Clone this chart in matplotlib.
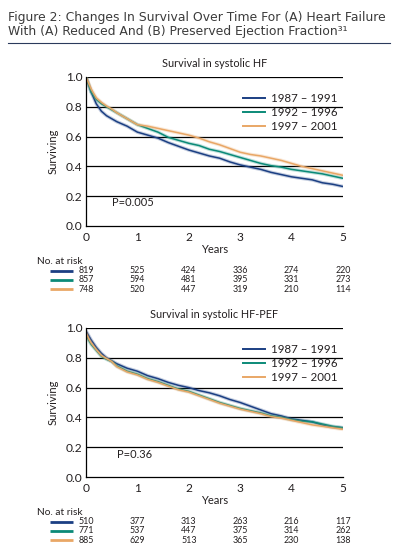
import matplotlib
matplotlib.use("Agg")
import matplotlib.pyplot as plt
import matplotlib.transforms as mtransforms

plt.rcParams['font.family'] = ['Lato', 'DejaVu Sans']

# ---------------- datos ----------------
years = [0, 0.05, 0.1, 0.2, 0.3, 0.4, 0.5, 0.6, 0.8, 1.0, 1.2, 1.4, 1.6, 1.8, 2.0,
         2.2, 2.4, 2.6, 2.8, 3.0, 3.2, 3.4, 3.6, 3.8, 4.0, 4.2, 4.4, 4.6, 4.8, 5.0]

periodos = ['1987 – 1991', '1992 – 1996', '1997 – 2001']
colores = ['#1b3f83', '#0b8a78', '#e9a766']

# Survival in systolic HF
hf_8791 = [1.0, 0.95, 0.90, 0.82, 0.77, 0.74, 0.72, 0.70, 0.67, 0.63, 0.61, 0.59, 0.56, 0.535, 0.51,
           0.49, 0.47, 0.455, 0.43, 0.41, 0.395, 0.38, 0.36, 0.345, 0.33, 0.32, 0.31, 0.29, 0.28, 0.265]
hf_9296 = [1.0, 0.95, 0.90, 0.85, 0.82, 0.80, 0.78, 0.76, 0.72, 0.68, 0.655, 0.63, 0.595, 0.575, 0.555,
           0.54, 0.515, 0.50, 0.48, 0.46, 0.44, 0.42, 0.405, 0.395, 0.38, 0.37, 0.36, 0.35, 0.335, 0.32]
hf_9701 = [1.0, 0.96, 0.92, 0.86, 0.83, 0.805, 0.785, 0.76, 0.72, 0.68, 0.67, 0.655, 0.64, 0.625, 0.61,
           0.59, 0.565, 0.545, 0.52, 0.495, 0.48, 0.47, 0.455, 0.44, 0.42, 0.40, 0.385, 0.37, 0.355, 0.34]

# Survival in systolic HF-PEF
pef_8791 = [0.98, 0.95, 0.92, 0.87, 0.83, 0.80, 0.78, 0.76, 0.73, 0.71, 0.68, 0.66, 0.635, 0.615, 0.60,
            0.58, 0.565, 0.545, 0.52, 0.50, 0.475, 0.45, 0.425, 0.41, 0.39, 0.38, 0.37, 0.35, 0.335, 0.33]
pef_9296 = [0.96, 0.92, 0.89, 0.85, 0.81, 0.79, 0.775, 0.745, 0.71, 0.69, 0.66, 0.64, 0.615, 0.59, 0.575,
            0.55, 0.525, 0.50, 0.48, 0.46, 0.445, 0.43, 0.41, 0.40, 0.385, 0.375, 0.37, 0.355, 0.34, 0.33]
pef_9701 = [0.97, 0.93, 0.90, 0.855, 0.815, 0.795, 0.775, 0.74, 0.705, 0.685, 0.655, 0.635, 0.61, 0.585, 0.57,
            0.545, 0.52, 0.495, 0.475, 0.455, 0.44, 0.425, 0.405, 0.395, 0.38, 0.365, 0.35, 0.34, 0.33, 0.32]

riesgo_x = [0, 1, 2, 3, 4, 5]
riesgo_hf = [[819, 525, 424, 336, 274, 220],
             [857, 594, 481, 395, 331, 273],
             [748, 520, 447, 319, 210, 114]]
riesgo_pef = [[510, 377, 313, 263, 216, 117],
              [771, 537, 447, 375, 314, 262],
              [885, 629, 513, 365, 230, 138]]

TXT = '#231f20'
W, H = 398, 558


def caja(x0, y0, x1, y1):
    # pixeles (desde arriba) -> fraccion de figura
    return [x0 / W, 1 - y1 / H, (x1 - x0) / W, (y1 - y0) / H]


def graficar(ax, titulo, series, riesgo, ptxt, ppos):
    for s, c, lab in zip(series, colores, periodos):
        ax.plot(years, s, color=c, lw=2.6, alpha=0.25, solid_capstyle='butt')
        ax.plot(years, s, color=c, lw=1.1, label=lab)
    ax.set_xlim(0, 5)
    ax.set_ylim(0, 1.0)
    ax.set_xticks(riesgo_x)
    ax.set_yticks([0.0, 0.2, 0.4, 0.6, 0.8, 1.0])
    ax.set_yticklabels(['0.0', '0.2', '0.4', '0.6', '0.8', '1.0'])
    for v in [0.2, 0.4, 0.6, 0.8, 1.0]:
        ax.axhline(v, color='black', lw=0.9, zorder=0)
    for sp in ['top', 'right']:
        ax.spines[sp].set_visible(False)
    for sp in ['left', 'bottom']:
        ax.spines[sp].set_linewidth(0.9)
    ax.tick_params(axis='x', length=0, pad=4, labelsize=8.6, colors=TXT)
    ax.tick_params(axis='y', length=0, pad=2.5, labelsize=8.6, colors=TXT)
    ax.set_title(titulo, fontsize=7.8, color=TXT, pad=7)
    ax.set_xlabel('Years', fontsize=8, color=TXT, labelpad=1)
    ax.set_ylabel('Surviving', fontsize=8, color=TXT, labelpad=5)
    ax.text(ppos[0], ppos[1], ptxt, fontsize=8, color=TXT, va='center')
    leg = ax.legend(loc='upper left', bbox_to_anchor=(0.61, 0.895), frameon=False,
                    fontsize=8.3, handlelength=1.9, handletextpad=0.55, labelspacing=0.28,
                    borderpad=0, borderaxespad=0, labelcolor=TXT)
    for ln in leg.get_lines():
        ln.set_linewidth(1.4)

    # tabla de numero en riesgo
    tr = mtransforms.blended_transform_factory(ax.transData, ax.transAxes)
    ax.text(-0.95, -0.24, 'No. at risk', transform=tr, fontsize=7.3, color=TXT,
            va='center', ha='left')
    filas_y = [-0.30, -0.36, -0.425]
    for fila, c, fy in zip(riesgo, colores, filas_y):
        ax.plot([-0.70, -0.25], [fy, fy], color=c, lw=2.0, transform=tr,
                clip_on=False, solid_capstyle='butt')
        for xv, n in zip(riesgo_x, fila):
            ax.text(xv, fy, str(n), transform=tr, fontsize=6.4, color=TXT,
                    ha='center', va='center')


fig = plt.figure(figsize=(W / 100, H / 100), dpi=100)

fig.text(8 / W, 1 - 17 / H, 'Figure 2: Changes In Survival Over Time For (A) Heart Failure',
         fontsize=8.9, color='#3b3b3b', va='center', ha='left', family='DejaVu Sans')
fig.text(8 / W, 1 - 31 / H, 'With (A) Reduced And (B) Preserved Ejection Fraction³¹',
         fontsize=8.9, color='#3b3b3b', va='center', ha='left', family='DejaVu Sans')
fig.add_artist(plt.Line2D([8 / W, 390 / W], [1 - 43 / H, 1 - 43 / H], color='#2b3a5c', lw=0.8))

ax1 = fig.add_axes(caja(86, 77, 343, 226))
graficar(ax1, 'Survival in systolic HF', [hf_8791, hf_9296, hf_9701], riesgo_hf,
         'P=0.005', (0.5, 0.155))

ax2 = fig.add_axes(caja(86, 328, 343, 477))
graficar(ax2, 'Survival in systolic HF-PEF', [pef_8791, pef_9296, pef_9701], riesgo_pef,
         'P=0.36', (0.6, 0.148))

fig.savefig('out.png', dpi=100)
